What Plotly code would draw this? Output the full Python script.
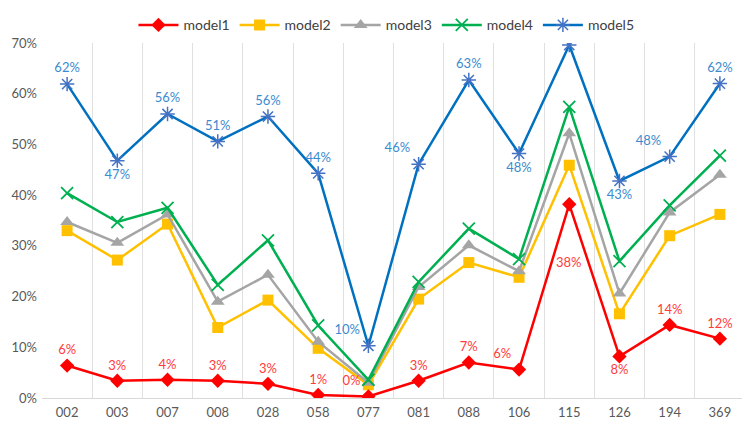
import plotly.graph_objects as go

categories = ["002", "003", "007", "008", "028", "058", "077", "081", "088", "106", "115", "126", "194", "369"]
model1 = [6.4, 3.4, 3.6, 3.4, 2.8, 0.6, 0.3, 3.4, 7.0, 5.6, 38.2, 8.2, 14.4, 11.7]
model2 = [33.0, 27.2, 34.3, 13.9, 19.3, 9.8, 2.6, 19.5, 26.7, 23.8, 45.9, 16.6, 32.0, 36.2]
model3 = [34.7, 30.6, 36.2, 19.0, 24.3, 11.1, 3.0, 21.9, 30.1, 25.0, 52.2, 20.6, 36.6, 44.0]
model4 = [40.4, 34.7, 37.5, 22.3, 31.1, 14.3, 3.6, 22.9, 33.4, 27.4, 57.4, 27.0, 38.0, 47.8]
model5 = [61.9, 46.8, 56.0, 50.6, 55.5, 44.3, 10.3, 46.1, 62.7, 48.2, 69.6, 42.8, 47.6, 62.0]
series_names = ["model1", "model2", "model3", "model4", "model5"]

pos1 = ["top center"] * 14
pos1[6] = "top left"
pos1[9] = "top left"
pos1[11] = "bottom center"
pos5 = ["top center"] * 14
pos5[1] = "bottom center"
pos5[6] = "top left"
pos5[7] = "top left"
pos5[9] = "bottom center"
pos5[11] = "bottom center"
pos5[12] = "top left"

def pct(v):
    return [x / 100 for x in v]

def lab(v):
    return f"{int(v + 0.5)}%"

PEAK = categories.index("115")
text1 = [lab(v) for v in model1]
text1[PEAK] = ""  # drawn as a shifted annotation below

fig = go.Figure()
fig.add_trace(go.Scatter(x=categories, y=pct(model2), name=series_names[1], mode="lines+markers",
                         line=dict(color="#FFC000", width=2.5),
                         marker=dict(symbol="square", size=11, color="#FFC000")))
fig.add_trace(go.Scatter(x=categories, y=pct(model3), name=series_names[2], mode="lines+markers",
                         line=dict(color="#A5A5A5", width=2.5),
                         marker=dict(symbol="triangle-up", size=12, color="#A5A5A5")))
fig.add_trace(go.Scatter(x=categories, y=pct(model4), name=series_names[3], mode="lines+markers",
                         line=dict(color="#00B050", width=2.5),
                         marker=dict(symbol="x-thin-open", size=12, color="#00B050", line=dict(width=1.8, color="#00B050"))))
fig.add_trace(go.Scatter(x=categories, y=pct(model5), name=series_names[4], mode="lines+markers+text",
                         line=dict(color="#0070C0", width=2.5),
                         marker=dict(symbol="asterisk-open", size=12, color="#4472C4", line=dict(width=1.5, color="#4472C4")),
                         text=[lab(v) for v in model5], textposition=pos5,
                         textfont=dict(color="#3A8BD0", size=13, family="Lato")))
fig.add_trace(go.Scatter(x=categories, y=pct(model1), name=series_names[0], mode="lines+markers+text",
                         line=dict(color="#FF0000", width=2.5),
                         marker=dict(symbol="diamond", size=11, color="#FF0000"),
                         text=text1, textposition=pos1,
                         textfont=dict(color="#FF3B3B", size=13, family="Lato")))

fig.add_annotation(x=PEAK, y=model1[PEAK] / 100, xref="x", yref="y", text=lab(model1[PEAK]), showarrow=False,
                   yshift=-58, font=dict(color="#FF3B3B", size=13, family="Lato"))

# page body has an 8px margin, so the figure is sized to fit the 750x423 window
fig.update_layout(
    width=742, height=415,
    margin=dict(l=34, r=5, t=35, b=25, autoexpand=False),
    paper_bgcolor="white", plot_bgcolor="white",
    font=dict(family="Lato", color="#595959", size=13),
    legend=dict(orientation="h", x=0.49, xanchor="center", y=1.095, yanchor="top",
                traceorder="normal", font=dict(size=14, color="#404040"), itemwidth=40),
    showlegend=True,
)
fig.update_xaxes(type="category", categoryorder="array", categoryarray=categories,
                 tickson="boundaries", showgrid=True, gridcolor="#E0E0E0", gridwidth=1,
                 showline=True, linecolor="#D9D9D9", linewidth=1, ticks="", range=[-0.5, 13.5],
                 tickfont=dict(size=13, color="#595959"), ticklabelstandoff=2)
fig.update_yaxes(range=[0, 0.70], dtick=0.1, tickformat=".0%", showgrid=False, zeroline=False,
                 showline=False, ticks="", tickfont=dict(size=13, color="#595959"), ticklabelstandoff=4)

order = {n: i for i, n in enumerate(series_names)}
for tr in fig.data:
    tr.legendrank = order[tr.name] + 1

fig.write_html("out.html")
